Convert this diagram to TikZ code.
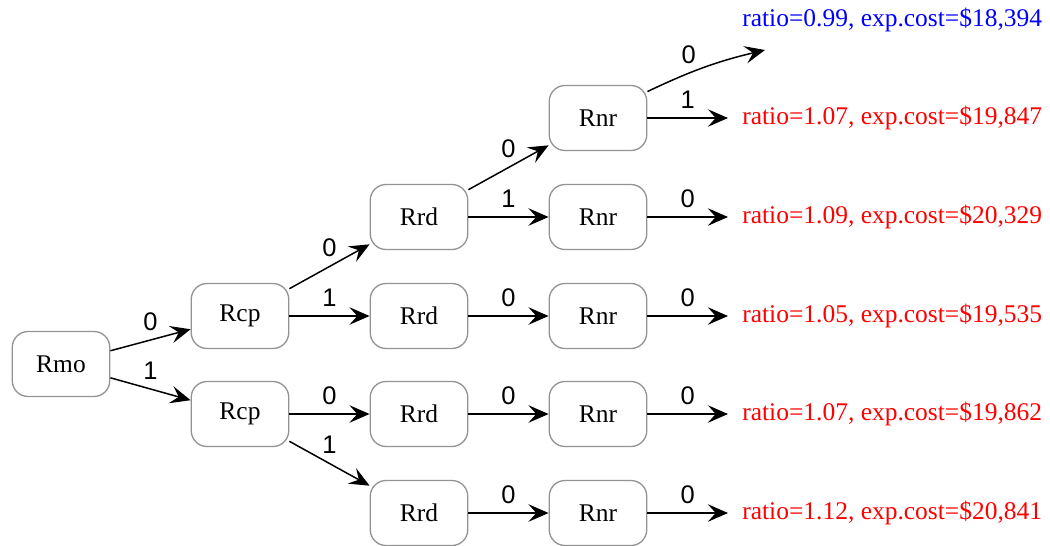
\documentclass[tikz,border=0pt]{standalone}
\usepackage{fontspec}
\setmainfont{Liberation Serif}
\newfontfamily\bitfont{Liberation Sans}
\usetikzlibrary{arrows.meta}
\begin{document}
\begin{tikzpicture}[x=0.02cm, y=-0.02cm]
  \useasboundingbox (0, 0) rectangle (1050, 545);  % Rand festlegen.
  \tikzstyle{box}=[draw=gray!85, rounded corners=9pt, minimum width=55.5pt, minimum height=37pt, line width=0.75pt, font=\fontsize{14.5}{16}\selectfont]
  \tikzstyle{arr}=[-{Stealth[length=11.5pt, width=10pt, inset=4.5pt]}, line width=0.85pt]
  \tikzstyle{bit}=[above=3pt, inner sep=2pt, font=\bitfont\fontsize{14.5}{16}\selectfont]
  \tikzstyle{res}=[anchor=west, inner sep=0pt, font=\fontsize{14.5}{16}\selectfont, text=red]

  \node[box] (mo)    at (61, 364)  {Rmo};
  \node[box] (cp0)   at (240, 316) {Rcp};
  \node[box] (cp1)   at (240, 414) {Rcp};
  \node[box] (rd00)  at (419, 217) {Rrd};
  \node[box] (rd01)  at (419, 316) {Rrd};
  \node[box] (rd10)  at (419, 414) {Rrd};
  \node[box] (rd11)  at (419, 513) {Rrd};
  \node[box] (nr000) at (598, 118) {Rnr};
  \node[box] (nr001) at (598, 217) {Rnr};
  \node[box] (nr010) at (598, 316) {Rnr};
  \node[box] (nr100) at (598, 414) {Rnr};
  \node[box] (nr110) at (598, 513) {Rnr};

  \coordinate (e0) at (765, 50);
  \coordinate (e1) at (728, 118);
  \coordinate (e2) at (728, 217);
  \coordinate (e3) at (728, 316);
  \coordinate (e4) at (728, 414);
  \coordinate (e5) at (728, 513);

  \node[res, text=blue] (r0) at (742, 20)  {ratio=0.99, exp.cost=\$18,394};
  \node[res] (r1) at (742, 118) {ratio=1.07, exp.cost=\$19,847};
  \node[res] (r2) at (742, 217) {ratio=1.09, exp.cost=\$20,329};
  \node[res] (r3) at (742, 316) {ratio=1.05, exp.cost=\$19,535};
  \node[res] (r4) at (742, 414) {ratio=1.07, exp.cost=\$19,862};
  \node[res] (r5) at (742, 513) {ratio=1.12, exp.cost=\$20,841};

  \path (mo) edge[arr] node[bit] {0} (cp0);
  \path (mo) edge[arr] node[bit] {1} (cp1);
  \path (cp0) edge[arr] node[bit] {0} (rd00);
  \path (cp0) edge[arr] node[bit] {1} (rd01);
  \path (cp1) edge[arr] node[bit] {0} (rd10);
  \path (cp1) edge[arr] node[bit] {1} (rd11);
  \path (rd00) edge[arr] node[bit] {0} (nr000);
  \path (rd00) edge[arr] node[bit] {1} (nr001);
  \path (rd01) edge[arr] node[bit] {0} (nr010);
  \path (rd10) edge[arr] node[bit] {0} (nr100);
  \path (rd11) edge[arr] node[bit] {0} (nr110);
  \path (nr000) edge[arr, bend left=6] node[bit, pos=0.35] {0} (e0);
  \path (nr000) edge[arr] node[bit] {1} (e1);
  \path (nr001) edge[arr] node[bit] {0} (e2);
  \path (nr010) edge[arr] node[bit] {0} (e3);
  \path (nr100) edge[arr] node[bit] {0} (e4);
  \path (nr110) edge[arr] node[bit] {0} (e5);
\end{tikzpicture}
\end{document}
